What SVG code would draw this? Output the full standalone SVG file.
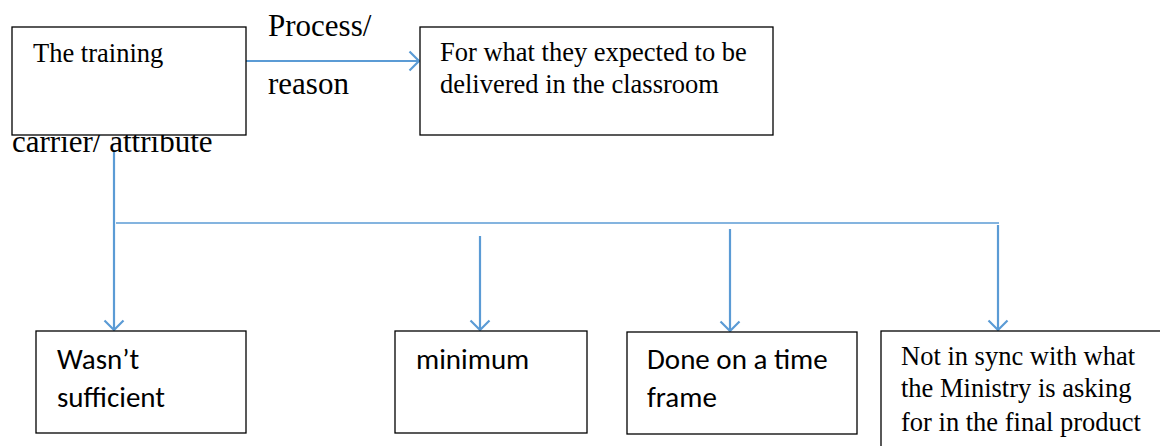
<svg xmlns="http://www.w3.org/2000/svg" width="1160" height="446" viewBox="0 0 1160 446">
<style>
.box{fill:#fff;stroke:#000;stroke-width:1.3}
.serif{font-family:"Liberation Serif","Times New Roman",serif;fill:#000}
.sans{font-family:Carlito,Calibri,Lato,"Open Sans",sans-serif;font-size:29px;fill:#000}
.t26{font-size:26.5px}
.t31{font-size:31px}
.ln{stroke:#5b9bd5;stroke-width:2.2;fill:none}
.hl{stroke:#5b9bd5;stroke-width:1.5;fill:none}
</style>
<defs>
<marker id="ah" markerUnits="userSpaceOnUse" viewBox="-12 -12 24 24" markerWidth="24" markerHeight="24" refX="0" refY="0" orient="auto">
<path d="M-9.5,-9.5 L0,0 L-9.5,9.5" fill="none" stroke="#5b9bd5" stroke-width="2.2"/>
</marker>
</defs>
<rect width="1160" height="446" fill="#fff"/>
<g id="connectors">
<line class="ln" x1="246" y1="61" x2="419" y2="61" marker-end="url(#ah)"/>
<line class="ln" x1="114" y1="152" x2="114" y2="330" marker-end="url(#ah)"/>
<line class="hl" x1="116" y1="223" x2="999" y2="223"/>
<line class="ln" x1="480" y1="236" x2="480" y2="330" marker-end="url(#ah)"/>
<line class="ln" x1="730" y1="229" x2="730" y2="331" marker-end="url(#ah)"/>
<line class="ln" x1="998" y1="225" x2="998" y2="330" marker-end="url(#ah)"/>
</g>
<g id="labels">
<text class="serif t31" x="268" y="36">Process/</text>
<text class="serif t31" x="268" y="94">reason</text>
<text class="serif t31" x="12" y="152">carrier/ attribute</text>
</g>
<g id="node-training">
<rect class="box" x="12" y="27" width="234" height="108"/>
<text class="serif t26" x="33" y="62">The training</text>
</g>
<g id="node-expected">
<rect class="box" x="420" y="27" width="353" height="108"/>
<text class="serif t26" x="440" y="61">For what they expected to be</text>
<text class="serif t26" x="440" y="93">delivered in the classroom</text>
</g>
<g id="node-sufficient">
<rect class="box" x="36" y="331" width="210" height="102"/>
<text class="sans" x="57" y="369">Wasn’t</text>
<text class="sans" x="57" y="407">sufficient</text>
</g>
<g id="node-minimum">
<rect class="box" x="395" y="331" width="192" height="102"/>
<text class="sans" x="416" y="369">minimum</text>
</g>
<g id="node-timeframe">
<rect class="box" x="627" y="332" width="230" height="102"/>
<text class="sans" x="647" y="369">Done on a time</text>
<text class="sans" x="647" y="407">frame</text>
</g>
<g id="node-sync">
<rect class="box" x="881" y="331" width="300" height="130"/>
<text class="serif t26" x="901" y="365">Not in sync with what</text>
<text class="serif t26" x="901" y="397">the Ministry is asking</text>
<text class="serif t26" x="901" y="431">for in the final product</text>
</g>
</svg>
